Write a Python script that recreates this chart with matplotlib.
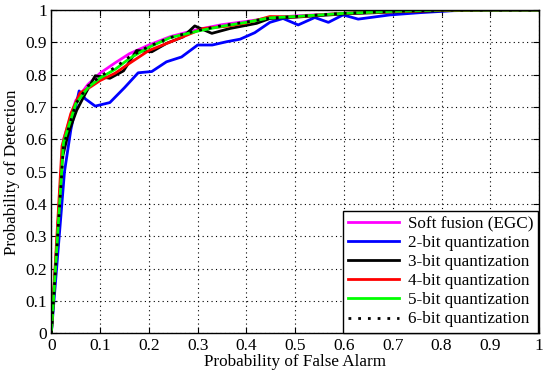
import matplotlib
matplotlib.use("Agg")
import matplotlib.pyplot as plt

plt.rcParams['font.family'] = ['Liberation Serif', 'DejaVu Serif']
plt.rcParams['mathtext.fontset'] = 'stix'

# Datos (Pf, Pd)
soft_x = [0, 0.025, 0.05, 0.075, 0.1, 0.131, 0.16, 0.2, 0.244, 0.3, 0.35, 0.4, 0.45, 0.5, 0.6, 0.7, 0.8, 0.9, 1]
soft_y = [0, 0.6, 0.72, 0.77, 0.805, 0.837, 0.865, 0.892, 0.918, 0.94, 0.955, 0.965, 0.976, 0.982, 0.99, 0.996, 1, 1, 1]

bit2_x = [0, 0.027, 0.04, 0.057, 0.07, 0.09, 0.12, 0.15, 0.178, 0.206, 0.236, 0.267, 0.3, 0.33, 0.359,
          0.387, 0.417, 0.448, 0.475, 0.506, 0.54, 0.568, 0.598, 0.629, 0.694, 0.756, 0.823, 0.9, 1]
bit2_y = [0, 0.5, 0.63, 0.75, 0.725, 0.703, 0.714, 0.76, 0.806, 0.81, 0.84, 0.855, 0.892, 0.892, 0.902,
          0.91, 0.93, 0.962, 0.974, 0.954, 0.977, 0.962, 0.985, 0.972, 0.985, 0.992, 0.998, 1, 1]

bit3_x = [0, 0.022, 0.035, 0.052, 0.066, 0.09, 0.12, 0.148, 0.175, 0.206, 0.236, 0.27, 0.294, 0.329,
          0.366, 0.421, 0.448, 0.5, 0.55, 0.6, 0.7, 0.8, 0.9, 1]
bit3_y = [0, 0.54, 0.62, 0.69, 0.731, 0.797, 0.789, 0.812, 0.875, 0.871, 0.897, 0.917, 0.951, 0.928,
          0.943, 0.959, 0.974, 0.978, 0.983, 0.988, 0.994, 0.998, 1, 1]

bit4_x = [0, 0.022, 0.04, 0.059, 0.08, 0.1, 0.131, 0.16, 0.2, 0.25, 0.311, 0.36, 0.4, 0.448, 0.5,
          0.55, 0.6, 0.7, 0.8, 0.9, 1]
bit4_y = [0, 0.58, 0.68, 0.744, 0.762, 0.782, 0.805, 0.835, 0.875, 0.905, 0.943, 0.95, 0.96, 0.98, 0.979,
          0.985, 0.99, 0.995, 0.999, 1, 1]

bit5_x = [0, 0.025, 0.05, 0.075, 0.1, 0.131, 0.16, 0.2, 0.244, 0.3, 0.35, 0.4, 0.448, 0.5, 0.6, 0.7, 0.8, 0.9, 1]
bit5_y = [0, 0.59, 0.71, 0.76, 0.79, 0.817, 0.85, 0.885, 0.915, 0.935, 0.95, 0.962, 0.976, 0.98, 0.99, 0.996, 1, 1, 1]

bit6_x = bit5_x
bit6_y = [0, 0.58, 0.71, 0.765, 0.795, 0.823, 0.855, 0.888, 0.915, 0.937, 0.952, 0.963, 0.975, 0.98, 0.99, 0.996, 1, 1, 1]

ticks = [i / 10 for i in range(11)]
tick_labels = ['0', '0.1', '0.2', '0.3', '0.4', '0.5', '0.6', '0.7', '0.8', '0.9', '1']

fig = plt.figure(figsize=(5.5, 3.73), dpi=100)
ax = fig.add_axes([0.0933, 0.106, 0.887, 0.867])

ax.plot(soft_x, soft_y, color='#ff00ff', lw=2, label='Soft fusion (EGC)')
ax.plot(bit2_x, bit2_y, color='#0000ff', lw=2, label='2-bit quantization')
ax.plot(bit3_x, bit3_y, color='black', lw=2, label='3-bit quantization')
ax.plot(bit4_x, bit4_y, color='#ff0000', lw=2, label='4-bit quantization')
ax.plot(bit5_x, bit5_y, color='#00ff00', lw=2, label='5-bit quantization')
ax.plot(bit6_x, bit6_y, color='black', lw=2, ls=(0, (1, 2.5)), label='6-bit quantization')

ax.set_xlim(0, 1)
ax.set_ylim(0, 1)
ax.set_xticks(ticks)
ax.set_yticks(ticks)
ax.set_xticklabels(tick_labels)
ax.set_yticklabels(tick_labels)
ax.tick_params(direction='in', top=True, right=True, labelsize=12.5, length=4, width=0.8, pad=3)
ax.grid(True, color='black', ls=(0, (1, 3)), lw=0.8)
for s in ax.spines.values():
    s.set_linewidth(1)

ax.set_xlabel('Probability of False Alarm', fontsize=12.3, labelpad=0)
ax.set_ylabel('Probability of Detection', fontsize=12.3, labelpad=4)

leg = ax.legend(loc='lower right', fontsize=12.3, frameon=True, fancybox=False, framealpha=1,
                edgecolor='black', handlelength=3.0, borderpad=0.3, labelspacing=0.18,
                handletextpad=0.5, borderaxespad=0.05)
leg.get_frame().set_linewidth(1)

fig.savefig('out.png', dpi=100)
